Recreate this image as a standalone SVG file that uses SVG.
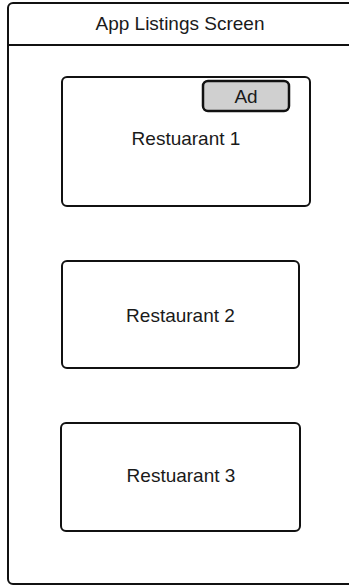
<svg xmlns="http://www.w3.org/2000/svg" width="349" height="588" viewBox="0 0 349 588">
  <style>
    .frame { fill: #ffffff; stroke: #111111; stroke-width: 2; }
    .card { fill: #ffffff; stroke: #111111; stroke-width: 2; }
    .badge { fill: #d0d0d0; stroke: #111111; stroke-width: 2.5; }
    .label { font-family: "Liberation Sans", Arial, sans-serif; font-size: 19px; fill: #1a1a1a; text-anchor: middle; }
  </style>
  <g id="screen">
    <rect class="frame" x="8" y="3" width="350" height="581" rx="5"/>
    <line x1="8" y1="45" x2="349" y2="45" stroke="#111111" stroke-width="2"/>
    <text class="label" x="180" y="30">App Listings Screen</text>
  </g>
  <g id="restaurant-1">
    <rect class="card" x="62" y="77" width="248" height="129" rx="5"/>
    <text class="label" x="186" y="145">Restuarant 1</text>
  </g>
  <g id="ad-badge">
    <rect class="badge" x="203" y="81" width="86" height="30" rx="5"/>
    <text class="label" x="246" y="103">Ad</text>
  </g>
  <g id="restaurant-2">
    <rect class="card" x="62" y="261" width="237" height="107" rx="5"/>
    <text class="label" x="180.5" y="322">Restaurant 2</text>
  </g>
  <g id="restaurant-3">
    <rect class="card" x="61" y="423" width="239" height="108" rx="5"/>
    <text class="label" x="181" y="482">Restuarant 3</text>
  </g>
  <g id="connectors"/>
</svg>
